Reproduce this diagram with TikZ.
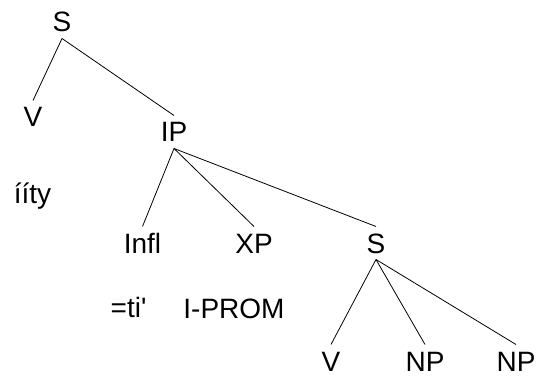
\documentclass[tikz,border=0pt]{standalone}
\usepackage{fontspec}
\setmainfont{Liberation Sans}
\begin{document}
\begin{tikzpicture}[x=1pt,y=-1pt,
  lab/.style={font=\fontsize{28}{30}\selectfont, inner sep=0pt, outer xsep=0pt,
    outer ysep=6.5pt, text height=20pt, text depth=0pt, anchor=base},
  txt/.style={font=\fontsize{28}{30}\selectfont, inner sep=0pt, anchor=base},
  edge/.style={line width=0.8pt, black}]
\useasboundingbox (0,0) rectangle (536,377);
% nodes
\node[lab] (S1) at (62,32) {S};
\node[lab] (V1) at (33,127) {V};
\node[lab] (IP) at (174,142) {IP};
\node[txt] (iity) at (32.5,204) {ííty};
\node[lab] (Infl) at (142.5,253) {Infl};
\node[lab] (XP) at (254,253) {XP};
\node[lab] (S2) at (376,253) {S};
\node[txt] (ti) at (128.5,317) {=ti\textquotesingle};
\node[txt] (IPROM) at (234,318) {I-PROM};
\node[lab] (V2) at (331,371) {V};
\node[lab] (NP1) at (425,371) {NP};
\node[lab] (NP2) at (516,371) {NP};
% edges
\draw[edge] (S1.south) -- (V1.north);
\draw[edge] (S1.south) -- (IP.north);
\draw[edge] (IP.south) -- (Infl.north);
\draw[edge] (IP.south) -- (XP.north);
\draw[edge] (IP.south) -- (S2.north);
\draw[edge] (S2.south) -- (V2.north);
\draw[edge] (S2.south) -- (NP1.north);
\draw[edge] (S2.south) -- (NP2.north);
\end{tikzpicture}
\end{document}
